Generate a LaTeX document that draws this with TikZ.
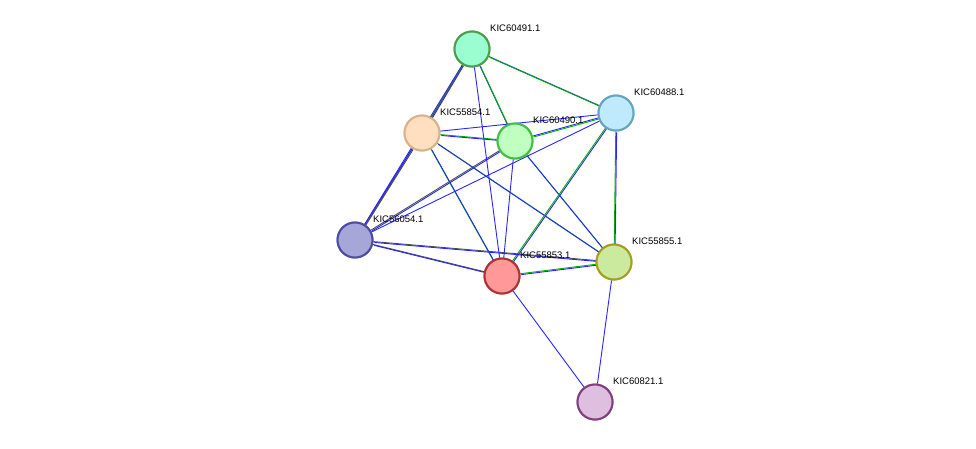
\documentclass[tikz,border=0pt]{standalone}
\usepackage{fontspec}
\setmainfont{Liberation Sans}
\begin{document}
\begin{tikzpicture}[
  x=1pt, y=-1pt,
  prot/.style={circle, line width=2pt, minimum size=35pt, inner sep=0pt},
  lbl/.style={anchor=west, font=\fontsize{9.5}{10}\selectfont, inner sep=0pt},
  eb/.style={draw=blue!85!white, line width=0.9pt},
  eg/.style={draw=green!70!black, line width=0.9pt},
  ek/.style={draw=black!70, line width=0.9pt}
]
\useasboundingbox (0,0) rectangle (976,448);

% Proteins
\node[prot, fill=green!45!cyan!40, draw=green!45!black!70] (p491) at (472,49) {};
\node[prot, fill=cyan!25, draw=cyan!50!gray] (p488) at (616,113) {};
\node[prot, fill=orange!25, draw=brown!60] (p854) at (422,133) {};
\node[prot, fill=green!25, draw=green!50!gray] (p490) at (515,141) {};
\node[prot, fill=blue!40!gray!50, draw=blue!50!black!70] (p054) at (355,240) {};
\node[prot, fill=red!40, draw=red!60!black!80] (p853) at (502,276) {};
\node[prot, fill=yellow!50!green!40, draw=olive!80] (p855) at (614,262) {};
\node[prot, fill=violet!25, draw=violet!50!gray] (p821) at (595,402) {};

% Edges
\begin{scope}[on background layer/.style={}]
\foreach \a/\b/\s/\t in {p491/p854/eg/eb, p491/p054/eb/ek, p491/p488/eb/eg,
  p491/p490/eb/eg, p854/p490/eg/eb, p490/p488/eb/eg, p490/p054/ek/eb,
  p854/p853/eg/eb, p854/p855/eg/eb, p490/p855/eg/eb, p488/p853/eg/eb,
  p488/p855/eg/eb, p054/p855/ek/eb, p054/p853/ek/eb, p853/p855/eg/eb,
  p854/p054/eb/ek}
{
  \path[\s] (\a) -- (\b);
  \path[\t, transform canvas={xshift=0.9pt, yshift=-0.9pt}] (\a) -- (\b);
}
\foreach \a/\b in {p491/p853, p854/p488, p488/p054, p490/p853, p853/p821, p855/p821}
  \path[eb] (\a) -- (\b);
\end{scope}

% redraw nodes on top
\foreach \n in {p491,p488,p854,p490,p054,p853,p855,p821}
  \path (\n) node[prot] {};
\node[prot, fill=green!45!cyan!40, draw=green!45!black!70] at (472,49) {};
\node[prot, fill=cyan!25, draw=cyan!50!gray] at (616,113) {};
\node[prot, fill=orange!25, draw=brown!60] at (422,133) {};
\node[prot, fill=green!25, draw=green!50!gray] at (515,141) {};
\node[prot, fill=blue!40!gray!50, draw=blue!50!black!70] at (355,240) {};
\node[prot, fill=red!40, draw=red!60!black!80] at (502,276) {};
\node[prot, fill=yellow!50!green!40, draw=olive!80] at (614,262) {};
\node[prot, fill=violet!25, draw=violet!50!gray] at (595,402) {};

% Labels
\node[lbl] (l491) at (490,28) {KIC60491.1};
\node[lbl] (l488) at (634,92) {KIC60488.1};
\node[lbl] (l854) at (440,112) {KIC55854.1};
\node[lbl] (l490) at (533,120) {KIC60490.1};
\node[lbl] (l054) at (373,219) {KIC56054.1};
\node[lbl] (l853) at (520,255) {KIC55853.1};
\node[lbl] (l855) at (632,241) {KIC55855.1};
\node[lbl] (l821) at (613,381) {KIC60821.1};
\end{tikzpicture}
\end{document}
